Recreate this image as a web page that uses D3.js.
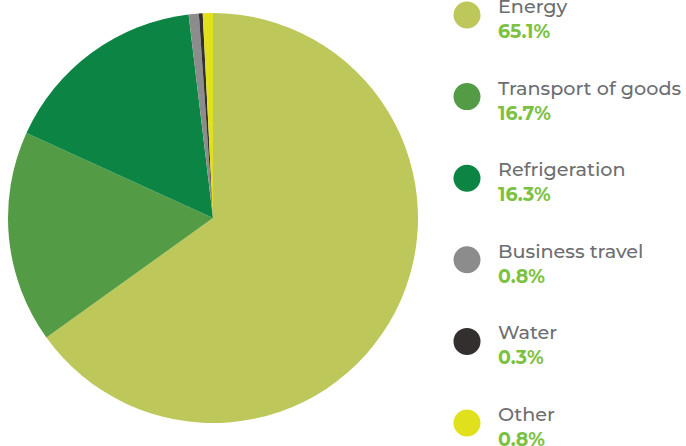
<!DOCTYPE html>
<html><head><meta charset="utf-8">
<script src="https://cdn.jsdelivr.net/npm/d3@7"></script>
<style>html,body{margin:0;padding:0;background:#fff;}</style>
</head><body>
<svg id="chart" width="686" height="446"></svg>
<script>
const categories = ["Energy","Transport of goods","Refrigeration","Business travel","Water","Other"];
const values = [65.1,16.7,16.3,0.8,0.3,0.8];
const labels = ["65.1%","16.7%","16.3%","0.8%","0.3%","0.8%"];
const colors = ["#bdc75a","#539b44","#0c8544","#8c8c8c","#332f2f","#e1e01c"];

const svg = d3.select("#chart");
const cx = 213, cy = 218, r = 205;
const data = categories.map((c,i)=>({name:c,value:values[i],label:labels[i],color:colors[i]}));
const pie = d3.pie().value(d=>d.value).sort(null);
const arc = d3.arc().innerRadius(0).outerRadius(r);
svg.append("g").attr("transform",`translate(${cx},${cy})`)
  .selectAll("path").data(pie(data)).join("path")
  .attr("d",arc).attr("fill",d=>d.data.color);

const ly = d3.scalePoint().domain(categories).range([15,423]);
const lg = svg.append("g").selectAll("g").data(data).join("g")
  .attr("transform",d=>`translate(0,${ly(d.name)})`);
lg.append("circle").attr("cx",467).attr("cy",0).attr("r",13.5).attr("fill",d=>d.color);
lg.append("text").attr("x",498).attr("y",-2)
  .attr("font-family","Montserrat, 'Open Sans', 'DejaVu Sans', sans-serif")
  .attr("font-size",19.2).attr("font-weight",500).attr("fill","#6d6e71")
  .text(d=>d.name);
lg.append("text").attr("x",498).attr("y",23)
  .attr("font-family","Montserrat, 'Open Sans', 'DejaVu Sans', sans-serif")
  .attr("font-size",19).attr("font-weight",700).attr("fill","#7dc142")
  .text(d=>d.label);
</script>
</body></html>
